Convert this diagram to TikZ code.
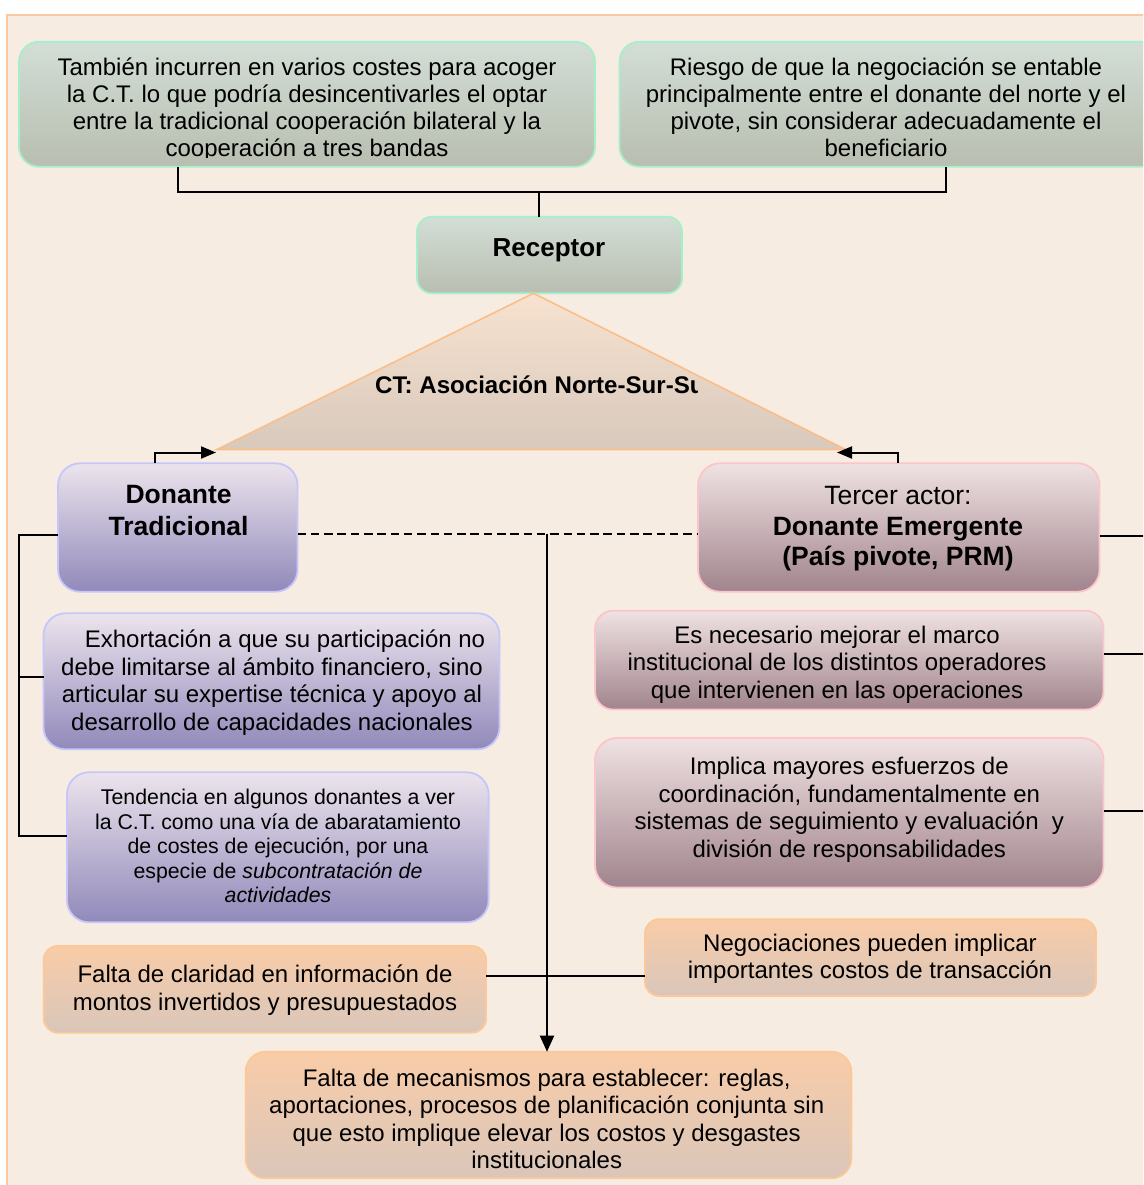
\documentclass[tikz,border=0pt]{standalone}
\usepackage{fontspec}
\setmainfont{Liberation Sans}
\usetikzlibrary{arrows.meta}
\definecolor{bgc}{HTML}{F6ECE2}
\definecolor{bgborder}{HTML}{FAC9A0}
\definecolor{gtop}{HTML}{D3DED6}
\definecolor{gbot}{HTML}{B8BEB0}
\definecolor{gline}{HTML}{A6EFCB}
\definecolor{ptop}{HTML}{ECE4EC}
\definecolor{pbot}{HTML}{9189BA}
\definecolor{pline}{HTML}{C6C6FA}
\definecolor{mtop}{HTML}{F0E2E2}
\definecolor{mbot}{HTML}{A1848D}
\definecolor{mline}{HTML}{FBC5CB}
\definecolor{otop}{HTML}{F9CCA8}
\definecolor{obot}{HTML}{D9C6BA}
\definecolor{oline}{HTML}{FCC898}
\definecolor{ttop}{HTML}{F7E2CF}
\definecolor{tbot}{HTML}{D8C9BC}
\definecolor{tline}{HTML}{FBBE88}
\begin{document}
\begin{tikzpicture}[x=1pt,y=-1pt,
  box/.style={line width=1.8pt, rounded corners=20pt, inner sep=0pt, outer sep=0pt},
  gbox/.style={box, draw=gline, top color=gtop, bottom color=gbot},
  pbox/.style={box, draw=pline, top color=ptop, bottom color=pbot},
  mbox/.style={box, draw=mline, top color=mtop, bottom color=mbot},
  obox/.style={box, draw=oline, top color=otop, bottom color=obot},
  sz/.style 2 args={minimum width=#1pt, minimum height=#2pt},
  txt/.style={align=center, inner sep=0pt, text=black, execute at begin node=\strut, execute at end node=\strut},
  body/.style={txt, font=\fontsize{24}{27.4}\selectfont},
  link/.style={line width=2pt, draw=black},
  arr/.style={link, -{Triangle[length=15pt,width=12pt]}},
]
\useasboundingbox (0,0) rectangle (1143,1185);
\clip (0,0) rectangle (1143,1185);
% background
\fill[bgc] (7,15) rectangle (1150,1190);
\draw[bgborder, line width=1.5pt] (7,1190) -- (7,15) -- (1150,15);

% boxes
\node[gbox, sz={576}{125}] (tl) at (307,104.2) {};
\node[gbox, sz={545}{125}] (tr) at (892,104.2) {};
\node[gbox, rounded corners=15pt, sz={265}{76.6}] (rec) at (549.5,255) {};

\path[draw=tline, line width=1.6pt, top color=ttop, bottom color=tbot]
  (533.5,293.3) coordinate (apx) -- (217,449.5) coordinate (tL) -- (845.5,449.5) coordinate (tR) -- cycle;
\coordinate (aL) at (216,452.5);
\coordinate (aR) at (837,452.5);

\node[pbox, rounded corners=22pt, sz={239.5}{128.4}] (dt) at (177.8,527.5) {};
\node[mbox, rounded corners=22pt, sz={401.5}{128.4}] (te) at (898.8,527.5) {};
\node[pbox, rounded corners=22pt, sz={456}{136}] (ex) at (271.5,681.3) {};
\node[pbox, rounded corners=22pt, sz={421.6}{150}] (tn) at (277.8,847.3) {};
\node[mbox, rounded corners=18pt, sz={508.5}{98.8}] (en) at (849.3,660.1) {};
\node[mbox, rounded corners=22pt, sz={508.5}{149.5}] (im) at (849.3,812.75) {};
\node[obox, rounded corners=14pt, sz={451}{76.7}] (ng) at (870.5,957.6) {};
\node[obox, rounded corners=14pt, sz={442.3}{86.7}] (fc) at (264.9,989.3) {};
\node[obox, rounded corners=20pt, sz={605.7}{126.6}] (bt) at (548.5,1115) {};

% connectors
\coordinate (j) at (538.5,192.3);
\draw[link] ([xshift=-129pt]tl.south) |- (j) -| ([xshift=54.2pt]tr.south);
\draw[link] (j) -- (j |- rec.north);

\draw[arr] ([xshift=-23.3pt]dt.north) |- (aL);
\draw[arr] ([xshift=-0.8pt]te.north) |- (aR);

\draw[link, dash pattern=on 8.5pt off 4.8pt] ([yshift=-6pt]dt.east) -- ([yshift=-6pt]te.west);
\coordinate (d) at (547,533.5);
\draw[link, -{Triangle[length=16pt,width=14pt]}] (d) -- (d |- bt.north);

\coordinate (lt) at (19,535);
\path ([yshift=-7.5pt]dt.west) coordinate (dtw)
      ([yshift=4.6pt]ex.west) coordinate (exw)
      ([yshift=11.3pt]tn.west) coordinate (tnw);
\draw[link] (dtw) -- (lt) |- (tnw);
\draw[link] (exw) -- (lt |- exw);

\coordinate (rx) at (1150,0);
\path ([yshift=-8.5pt]te.east) coordinate (tee)
      ([yshift=6pt]en.east) coordinate (ene)
      ([yshift=2pt]im.east) coordinate (ime);
\draw[link] (tee) -- (rx |- tee);
\draw[link] (ene) -- (rx |- ene);
\draw[link] (ime) -- (rx |- ime);

\path ([yshift=13.3pt]fc.east) coordinate (fce);
\draw[link] (fce) -- (fce -| ng.west);

% texts
\begin{scope}
\clip (0,0) rectangle (1143,157.3);
\node[body, font=\fontsize{24}{27.2}\selectfont] (tlt) at (307,111.4)
  {También incurren en varios costes para acoger\\la C.T. lo que podría desincentivarles el optar\\entre la tradicional cooperación bilateral y la\\cooperación a tres bandas};
\node[body, font=\fontsize{24}{27.2}\selectfont] (trt) at (886,111.4)
  {Riesgo de que la negociación se entable\\principalmente entre el donante del norte y el\\pivote, sin considerar adecuadamente el\\beneficiario};
\end{scope}

\node[txt, font=\bfseries\fontsize{26}{31}\selectfont] (rect) at (549,250.3) {Receptor};

\begin{scope}
\clip (300,300) rectangle (697,445);
\node[anchor=base west, inner sep=0pt, font=\bfseries\fontsize{24.1}{28}\selectfont] (ctt) at (375,393.5) {CT: Asociación Norte-Sur-Sur};
\end{scope}

\node[txt, font=\bfseries\fontsize{26.5}{31.7}\selectfont] (dtt) at (178.6,515.3) {Donante\\Tradicional};
\node[txt, font=\fontsize{26.5}{30.5}\selectfont] (tet) at (898,530.6)
  {Tercer actor:\\\textbf{Donante Emergente}\\\textbf{(País pivote, PRM)}};

\node[body, font=\fontsize{24}{27.5}\selectfont] (ext) at (272,684.5)
  {\hspace*{26pt}Exhortación a que su participación no\\debe limitarse al ámbito financiero, sino\\articular su expertise técnica y apoyo al\\desarrollo de capacidades nacionales};
\node[txt, font=\fontsize{21.3}{24.6}\selectfont] (tnt) at (278,849.6)
  {Tendencia en algunos donantes a ver\\la C.T. como una vía de abaratamiento\\de costes de ejecución, por una\\especie de \textit{subcontratación de}\\\textit{actividades}};
\node[body, font=\fontsize{24}{27.3}\selectfont] (ent) at (837,666.3)
  {Es necesario mejorar el marco\\institucional de los distintos operadores\\que intervienen en las operaciones};
\node[body] (imt) at (849.3,811.5)
  {Implica mayores esfuerzos de\\coordinación, fundamentalmente en\\sistemas de seguimiento y evaluación~ y\\división de responsabilidades};
\node[body] (ngt) at (870,960.2)
  {Negociaciones pueden implicar\\importantes costos de transacción};
\node[body, font=\fontsize{24}{28}\selectfont] (fct) at (265,992.2)
  {Falta de claridad en información de\\montos invertidos y presupuestados};
\node[body] (btt) at (546.7,1123)
  {Falta de mecanismos para establecer: reglas,\\aportaciones, procesos de planificación conjunta sin\\que esto implique elevar los costos y desgastes\\institucionales};
\end{tikzpicture}
\end{document}
